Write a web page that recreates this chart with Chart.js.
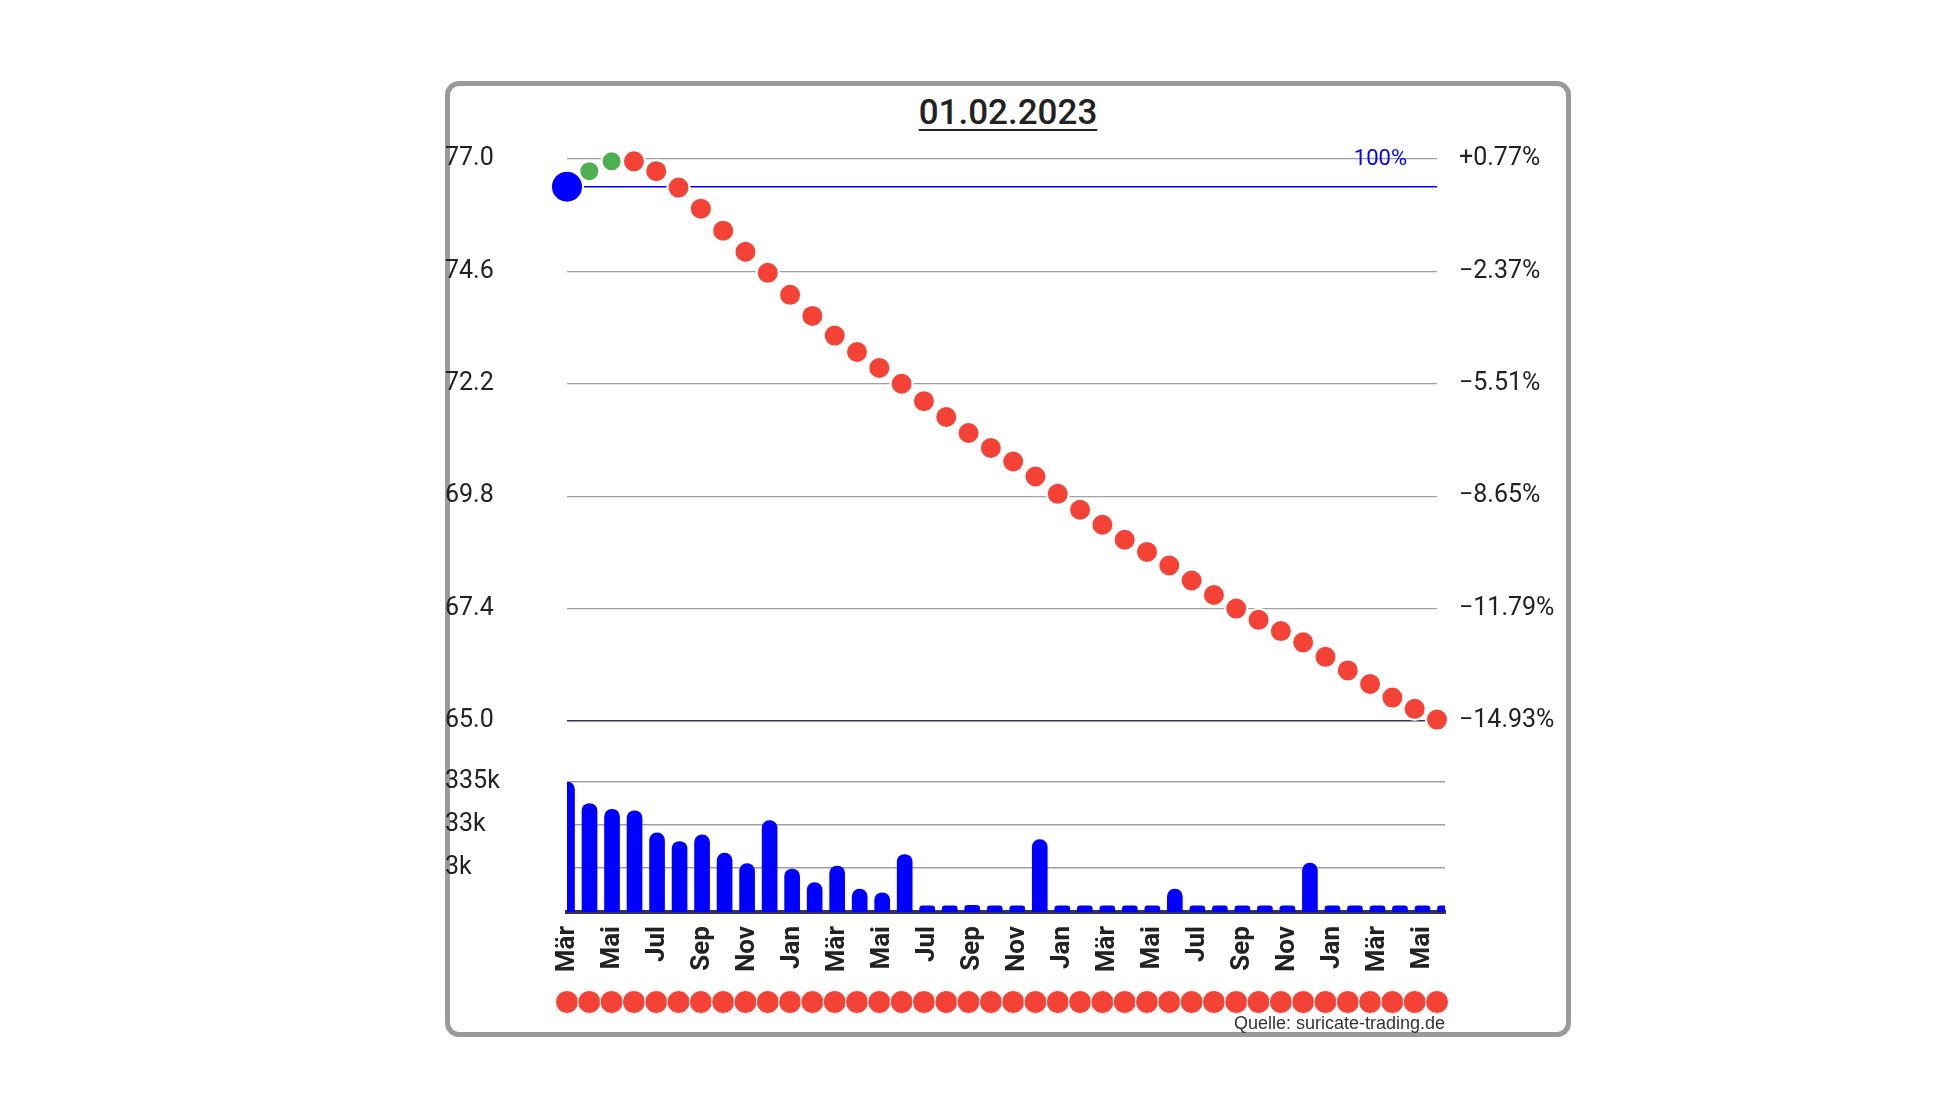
<!DOCTYPE html>
<html>
<head>
<meta charset="utf-8">
<script src="https://cdn.jsdelivr.net/npm/chart.js@4"></script>
<style>
  body { margin: 0; width: 1945px; height: 1094px; background: #fff; font-family: Roboto, sans-serif; position: relative; overflow: hidden; }
  #frame { position: absolute; left: 445px; top: 81px; width: 1116px; height: 946px; border: 5px solid #9a9a9a; border-radius: 14px; }
  #title { position: absolute; left: 445px; width: 1126px; top: 92px; text-align: center; font-size: 35px; font-weight: 500; color: #222; text-decoration: underline; text-decoration-thickness: 2px; text-underline-offset: 5px; }
  .c { position: absolute; left: 445px; width: 1126px; }
  #source { position: absolute; right: 500px; top: 1013px; font-family: "Liberation Sans", Arial, sans-serif; font-size: 18px; color: #333; }
</style>
</head>
<body>
<div id="frame"></div>
<div id="title">01.02.2023</div>
<div class="c" style="top:130px;height:620px"><canvas id="priceChart"></canvas></div>
<div class="c" style="top:760px;height:228px"><canvas id="volChart"></canvas></div>
<div class="c" style="top:985px;height:34px"><canvas id="dotChart"></canvas></div>
<div id="source">Quelle: suricate-trading.de</div>
<script>
const months = ['Mär','Apr','Mai','Jun','Jul','Aug','Sep','Okt','Nov','Dez','Jan','Feb',
                'Mär','Apr','Mai','Jun','Jul','Aug','Sep','Okt','Nov','Dez','Jan','Feb',
                'Mär','Apr','Mai','Jun','Jul','Aug','Sep','Okt','Nov','Dez','Jan','Feb',
                'Mär','Apr','Mai','Jun'];
const prices = [76.41, 76.74, 76.95, 76.95, 76.74, 76.39, 75.94, 75.47, 75.02, 74.57,
                74.10, 73.65, 73.23, 72.88, 72.54, 72.20, 71.83, 71.49, 71.15, 70.83,
                70.54, 70.22, 69.85, 69.51, 69.19, 68.87, 68.61, 68.32, 68.00, 67.69,
                67.40, 67.16, 66.92, 66.68, 66.37, 66.08, 65.79, 65.50, 65.26, 65.03];
const volumes = [335000, 105000, 77000, 71000, 21400, 13500, 19300, 7200, 4100, 41500,
                 3060, 1470, 3600, 1030, 850, 6700, 420, 420, 430, 420,
                 420, 15000, 420, 420, 420, 420, 420, 1030, 420, 420,
                 420, 420, 420, 4200, 420, 420, 420, 420, 420, 420];
const basePrice = 76.41;
const priceTicks = [65.0, 67.4, 69.8, 72.2, 74.6, 77.0];
const volTicks = [3350, 33500, 335000];
const volTickLabels = ['3k', '33k', '335k'];

const LEFT_W = 122, RIGHT_W = 134;
const tickFont = { family: 'Roboto', size: 25 };

const pointColors = prices.map((v, i) => i === 0 ? '#0000ff' : (i <= 2 ? '#4caf50' : '#f44336'));
const pointRadii = prices.map((v, i) => i === 0 ? 16 : (i <= 2 ? 10 : 11));

const label100 = {
    id: 'label100',
    afterDatasetsDraw(chart) {
        const c = chart.ctx, a = chart.chartArea;
        c.save();
        c.font = '22px Roboto';
        c.fillStyle = '#0000ff';
        c.textAlign = 'right';
        c.textBaseline = 'middle';
        c.fillText('100%', a.right - 30, a.top);
        c.restore();
    }
};

new Chart(document.getElementById('priceChart'), {
    type: 'line',
    data: {
        labels: months,
        datasets: [
            {
                data: prices,
                showLine: false,
                pointRadius: pointRadii,
                pointBackgroundColor: pointColors,
                pointBorderColor: '#fff',
                pointBorderWidth: 2,
                clip: false,
                order: 0
            },
            {
                data: months.map(() => basePrice),
                borderColor: '#0000ff',
                borderWidth: 1.5,
                pointRadius: 0,
                order: 1
            }
        ]
    },
    options: {
        responsive: true,
        maintainAspectRatio: false,
        animation: false,
        layout: { padding: { top: 25, bottom: 28 } },
        plugins: { legend: { display: false }, tooltip: { enabled: false } },
        scales: {
            x: { display: false, offset: false },
            y: {
                min: 65, max: 77,
                afterFit: s => { s.width = LEFT_W; },
                afterBuildTicks: s => { s.ticks = priceTicks.map(v => ({ value: v })); },
                border: { display: false },
                grid: {
                    drawTicks: false,
                    color: ctx => ctx.tick && ctx.tick.value === 65 ? '#33335a' : '#a0a0a0',
                    lineWidth: ctx => ctx.tick && ctx.tick.value === 65 ? 1.5 : 1.2
                },
                ticks: { font: tickFont, color: '#222', crossAlign: 'far', padding: 0, callback: v => v.toFixed(1) }
            },
            y2: {
                position: 'right',
                min: 65, max: 77,
                afterFit: s => { s.width = RIGHT_W; },
                afterBuildTicks: s => { s.ticks = priceTicks.map(v => ({ value: v })); },
                border: { display: false },
                grid: { display: false },
                ticks: {
                    font: tickFont, color: '#222', padding: 14,
                    callback: v => {
                        const p = (v / basePrice - 1) * 100;
                        return (p >= 0 ? '+' : '\u2212') + Math.abs(p).toFixed(2) + '%';
                    }
                }
            }
        }
    },
    plugins: [label100]
});

new Chart(document.getElementById('volChart'), {
    type: 'bar',
    data: {
        labels: months,
        datasets: [{
            data: volumes,
            backgroundColor: '#0000ff',
            barThickness: 15,
            borderRadius: { topLeft: 8, topRight: 8 },
            borderSkipped: 'bottom'
        }]
    },
    options: {
        responsive: true,
        maintainAspectRatio: false,
        animation: false,
        layout: { padding: { top: 22, right: 0 } },
        plugins: { legend: { display: false }, tooltip: { enabled: false } },
        scales: {
            x: {
                offset: false,
                afterFit: s => { s.height = 228 - 22 - 130; },
                border: { display: true, color: '#33335a', width: 4 },
                grid: { display: false },
                ticks: {
                    autoSkip: false, minRotation: 90, maxRotation: 90, padding: 6,
                    font: { family: 'Roboto', size: 26, weight: 'bold' }, color: '#222',
                    callback: (v, i) => i % 2 === 0 ? months[i] : ''
                }
            },
            y: {
                type: 'logarithmic',
                min: 300, max: 335000,
                afterFit: s => { s.width = LEFT_W; },
                afterBuildTicks: s => { s.ticks = volTicks.map(v => ({ value: v })); },
                border: { display: false },
                grid: { drawTicks: false, color: '#a0a0a0', lineWidth: 1.5 },
                ticks: { font: tickFont, color: '#222', crossAlign: 'far', padding: 0,
                         callback: (v) => volTickLabels[volTicks.indexOf(v)] }
            },
            yr: {
                position: 'right', display: true,
                afterFit: s => { s.width = RIGHT_W - 8; },
                grid: { display: false }, border: { display: false },
                ticks: { display: false }
            }
        }
    }
});

new Chart(document.getElementById('dotChart'), {
    type: 'line',
    data: {
        labels: months,
        datasets: [{
            data: months.map(() => 0),
            showLine: false,
            pointRadius: 11.5,
            pointBackgroundColor: '#f44336',
            pointBorderColor: '#fff',
            pointBorderWidth: 1,
            clip: false
        }]
    },
    options: {
        responsive: true,
        maintainAspectRatio: false,
        animation: false,
        layout: { padding: { left: LEFT_W, right: RIGHT_W } },
        plugins: { legend: { display: false }, tooltip: { enabled: false } },
        scales: {
            x: { display: false, offset: false },
            y: { display: false, min: -1, max: 1 }
        }
    }
});
</script>
</body>
</html>
